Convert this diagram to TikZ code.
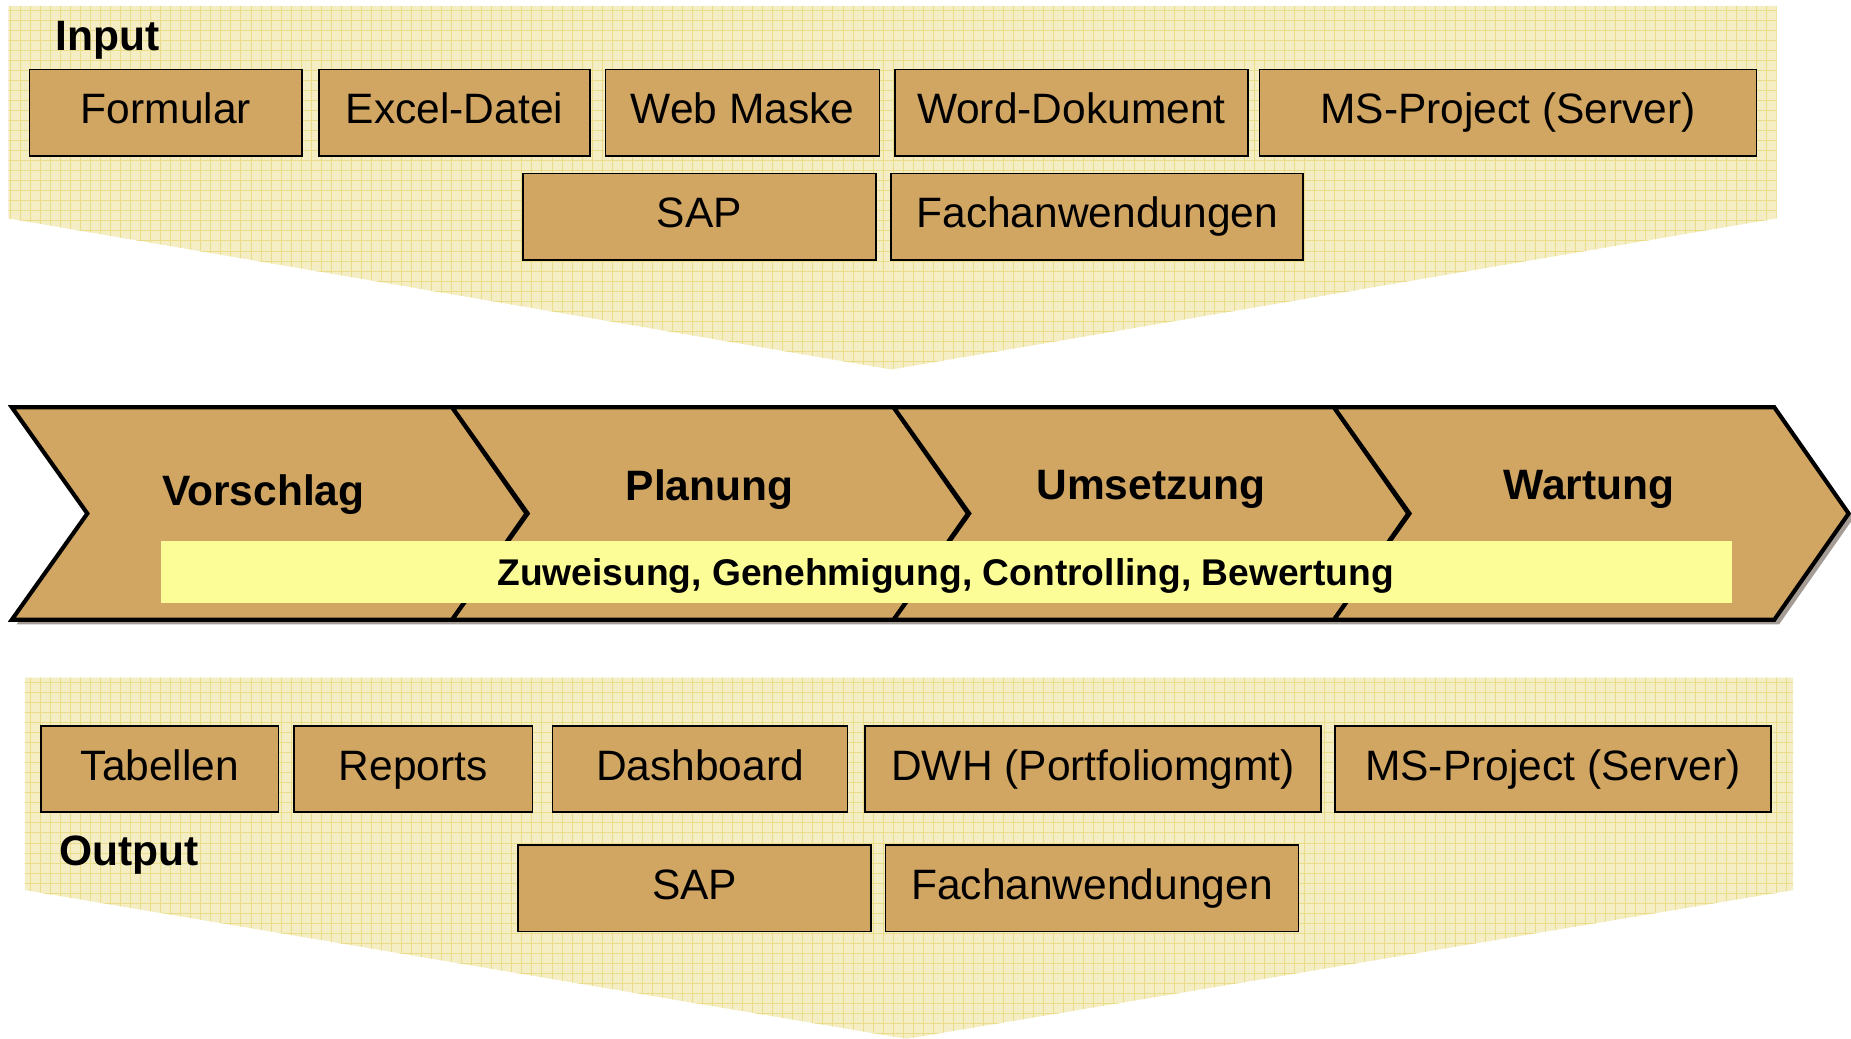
\documentclass[tikz,border=0pt]{standalone}
\usepackage{fontspec}
\setmainfont{Liberation Sans}
\definecolor{tanc}{RGB}{209,165,98}
\definecolor{bgc}{RGB}{245,238,196}
\definecolor{gridc}{RGB}{234,221,138}
\definecolor{barc}{RGB}{253,253,152}
\definecolor{shadowc}{RGB}{165,156,150}
\begin{document}
\begin{tikzpicture}[x=1pt,y=-1pt,
  box/.style={draw=black, line width=1.4pt, fill=tanc, inner sep=0pt,
    font=\fontsize{36}{43}\selectfont, text height=26pt, text depth=7pt,
    minimum height=73pt},
  chev/.style={draw=black, line width=3.5pt, fill=tanc, line join=miter},
  chevshadow/.style={fill=shadowc},
  phase/.style={anchor=base, font=\fontsize{36}{43}\selectfont\bfseries, inner sep=0pt},
  title/.style={anchor=base west, font=\fontsize{36}{43}\selectfont\bfseries, inner sep=0pt},
  gridlines/.style={draw=gridc, line width=0.6pt}
]
\useasboundingbox (0,0) rectangle (1568,880);
\fill[white] (0,0) rectangle (1568,880);

% Input funnel
\begin{scope}
  \clip (7,5) -- (1505,5) -- (1505,185) -- (755,313) -- (7,185) -- cycle;
  \fill[bgc] (0,0) rectangle (1568,320);
  \draw[gridlines, step=8.5pt] (0,320) grid (1568,0);
\end{scope}

% Output funnel
\begin{scope}
  \clip (21,574) -- (1519,574) -- (1519,754) -- (768,880) -- (21,754) -- cycle;
  \fill[bgc] (0,570) rectangle (1568,880);
  \draw[gridlines, step=8.5pt] (0,880) grid (1568,570);
\end{scope}

% Chevron shadows
\foreach \L/\R in {10/383, 383/757, 757/1130, 1130/1503}{
  \fill[chevshadow] (\L+4,349) -- (\R+4,349) -- (\R+67,439) -- (\R+4,529) -- (\L+4,529) -- (\L+68,439) -- cycle;
}
% Chevrons
\foreach \L/\R in {10/383, 383/757, 757/1130, 1130/1503}{
  \draw[chev] (\L,345) -- (\R,345) -- (\R+63,435) -- (\R,525) -- (\L,525) -- (\L+64,435) -- cycle;
}

\node[phase] (vorschlag) at (223,428) {Vorschlag};
\node[phase] (planung) at (601,424) {Planung};
\node[phase] (umsetzung) at (975,423) {Umsetzung};
\node[phase] (wartung) at (1346,423) {Wartung};

\node[fill=barc, inner sep=0pt, minimum width=1331pt, minimum height=53pt] (bar) at (801.5,484.5) {};
\node[anchor=base, inner sep=0pt, font=\fontsize{31.5}{38}\selectfont\bfseries] (bartext) at (801,496) {Zuweisung, Genehmigung, Controlling, Bewertung};

% Input
\node[title] (input) at (47,43) {Input};
\node[box, minimum width=231pt] (in1) at (140.5,95.5) {Formular};
\node[box, minimum width=230pt] (in2) at (385,95.5) {Excel-Datei};
\node[box, minimum width=232pt] (in3) at (629,95.5) {Web Maske};
\node[box, minimum width=299pt] (in4) at (907.5,95.5) {Word-Dokument};
\node[box, minimum width=421pt] (in5) at (1277.5,95.5) {MS-Project (Server)};
\node[box, minimum width=299pt] (in6) at (592.5,183.5) {SAP};
\node[box, minimum width=349pt] (in7) at (929.5,183.5) {Fachanwendungen};

% Output
\node[box, minimum width=201pt] (out1) at (135.5,651.5) {Tabellen};
\node[box, minimum width=202pt] (out2) at (350,651.5) {Reports};
\node[box, minimum width=250pt] (out3) at (593,651.5) {Dashboard};
\node[box, minimum width=386pt] (out4) at (926,651.5) {DWH (Portfoliomgmt)};
\node[box, minimum width=369pt] (out5) at (1315.5,651.5) {MS-Project (Server)};
\node[box, minimum width=299pt] (out6) at (588.5,752.5) {SAP};
\node[box, minimum width=350pt] (out7) at (925,752.5) {Fachanwendungen};
\node[title] (output) at (50,733) {Output};
\end{tikzpicture}
\end{document}
